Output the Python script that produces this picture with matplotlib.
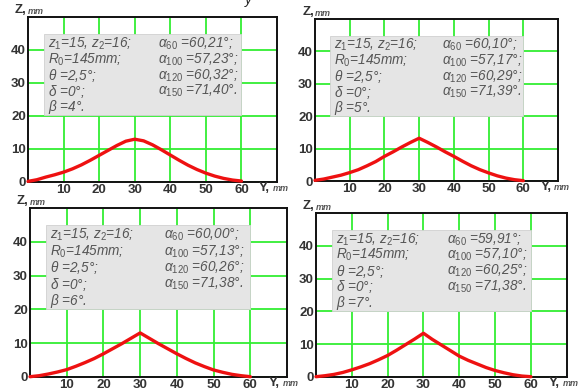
import matplotlib
matplotlib.use("Agg")
import matplotlib.pyplot as plt
from matplotlib.patches import Rectangle

plt.rcParams['font.family'] = ['Liberation Sans', 'DejaVu Sans']
plt.rcParams['mathtext.fontset'] = 'custom'
plt.rcParams['mathtext.rm'] = 'Liberation Sans'
plt.rcParams['mathtext.it'] = 'Liberation Sans:italic'
plt.rcParams['mathtext.bf'] = 'Liberation Sans:bold'

# ---- data ----
y_mm = [0, 2.5, 5, 7.5, 10, 12.5, 15, 17.5, 20, 22.5, 25, 27.5, 30,
        32.5, 35, 37.5, 40, 42.5, 45, 47.5, 50, 52.5, 55, 57.5, 60]
z_beta4 = [0.1, 0.6, 1.4, 2.1, 2.9, 3.9, 5.1, 6.5, 8.0, 9.5, 11.0, 12.3, 12.9,
           12.4, 11.2, 9.7, 8.1, 6.5, 5.0, 3.7, 2.6, 1.7, 1.0, 0.5, 0.2]
z_beta5 = [0.2, 0.6, 1.2, 1.8, 2.6, 3.5, 4.7, 6.0, 7.6, 9.0, 10.5, 11.9, 13.2,
           11.9, 10.5, 9.0, 7.6, 6.1, 4.7, 3.5, 2.5, 1.6, 0.9, 0.4, 0.1]
z_beta6 = [0.0, 0.3, 0.8, 1.4, 2.1, 3.1, 4.2, 5.4, 6.8, 8.3, 9.8, 11.4, 13.0,
           11.4, 9.8, 8.3, 6.8, 5.4, 4.1, 3.0, 2.0, 1.3, 0.7, 0.3, 0.0]
z_beta7 = [0.0, 0.3, 0.7, 1.3, 2.1, 3.0, 4.0, 5.2, 6.5, 8.1, 9.8, 11.5, 13.3,
           11.4, 9.7, 8.0, 6.3, 5.0, 3.9, 2.8, 1.9, 1.2, 0.6, 0.2, 0.0]
curves = [z_beta4, z_beta5, z_beta6, z_beta7]

betas = ["4", "5", "6", "7"]
alpha60 = ["60,21", "60,10", "60,00", "59,91"]
alpha100 = ["57,23", "57,17", "57,13", "57,10"]
alpha120 = ["60,32", "60,29", "60,26", "60,25"]
alpha150 = ["71,40", "71,39", "71,38", "71,38"]

x_ticks = [10, 20, 30, 40, 50, 60]
y_ticks = [0, 10, 20, 30, 40]

# ---- layout (pixels: left, right, top, bottom) ----
W, H = 583, 390
panels = [(28, 277, 17, 181.7), (315, 558, 19, 181),
          (30, 287, 208.3, 376.7), (316, 566.7, 213.3, 376.7)]

fig = plt.figure(figsize=(W / 100, H / 100), dpi=100)
fig.patch.set_facecolor('white')

txt_col = '#555555'
lab_col = '#333333'
for i, (l, r, t, b) in enumerate(panels):
    ax = fig.add_axes([l / W, 1 - b / H, (r - l) / W, (b - t) / H])
    ax.set_xlim(0, 70)
    ax.set_ylim(0, 50)
    ax.set_xticks(x_ticks, labels=[str(v) for v in x_ticks],
                  fontweight='bold', fontsize=9.5, color=lab_col)
    ax.set_yticks(y_ticks, labels=[str(v) for v in y_ticks],
                  fontweight='bold', fontsize=9.5, color=lab_col)
    ax.grid(True, color='#33ee33', linewidth=1.3, zorder=0)
    ax.set_axisbelow(True)
    ax.tick_params(length=0, pad=1.5)
    for sp in ax.spines.values():
        sp.set_linewidth(1.4)
        sp.set_color('#111111')

    ax.add_patch(Rectangle((4.4, 20.2), 55.6, 24.7, facecolor='#e5e5e5',
                           edgecolor='#d0d0d0', linewidth=0.6, zorder=2))
    left_lines = [r"$z_1$=15, $z_2$=16;", r"$R_0$=145mm;", r"$\theta$ =2,5°;",
                  r"$\delta$ =0°;", r"$\beta$ =" + betas[i] + "°."]
    right_lines = [r"$\alpha_{60}$ =" + alpha60[i] + "°;",
                   r"$\alpha_{100}$ =" + alpha100[i] + "°;",
                   r"$\alpha_{120}$ =" + alpha120[i] + "°;",
                   r"$\alpha_{150}$ =" + alpha150[i] + "°."]
    for k, s in enumerate(left_lines):
        ax.text(5.5, 42.0 - 4.85 * k, s, fontsize=9.8, style='italic',
                color=txt_col, va='center', ha='left', zorder=3)
    for k, s in enumerate(right_lines):
        ax.text(36.5, 42.0 - 4.85 * k, s, fontsize=9.8, style='italic',
                color=txt_col, va='center', ha='left', zorder=3)

    ax.plot(y_mm, curves[i], color='#ee1111', linewidth=2.4, zorder=4,
            solid_capstyle='round', clip_on=False)

    # axis labels
    ax.text(-0.052, 1.005, "Z,", transform=ax.transAxes, fontsize=9.5,
            fontweight='bold', color=lab_col, ha='left', va='bottom')
    ax.text(0.0, 1.005, "mm", transform=ax.transAxes, fontsize=6.5,
            style='italic', fontweight='bold', color='#555555', ha='left', va='bottom')
    ax.text(65.0, -2.0, "Y,", fontsize=9.5, fontweight='bold', color=lab_col,
            ha='left', va='center', clip_on=False)
    ax.text(68.8, -2.0, "mm", fontsize=6.5, style='italic', fontweight='bold',
            color='#555555', ha='left', va='center', clip_on=False)

fig.text(248 / W, 1.0, "y", fontsize=10, style='italic', color='#222222',
         ha='center', va='center')

fig.savefig("out.png", dpi=100)
